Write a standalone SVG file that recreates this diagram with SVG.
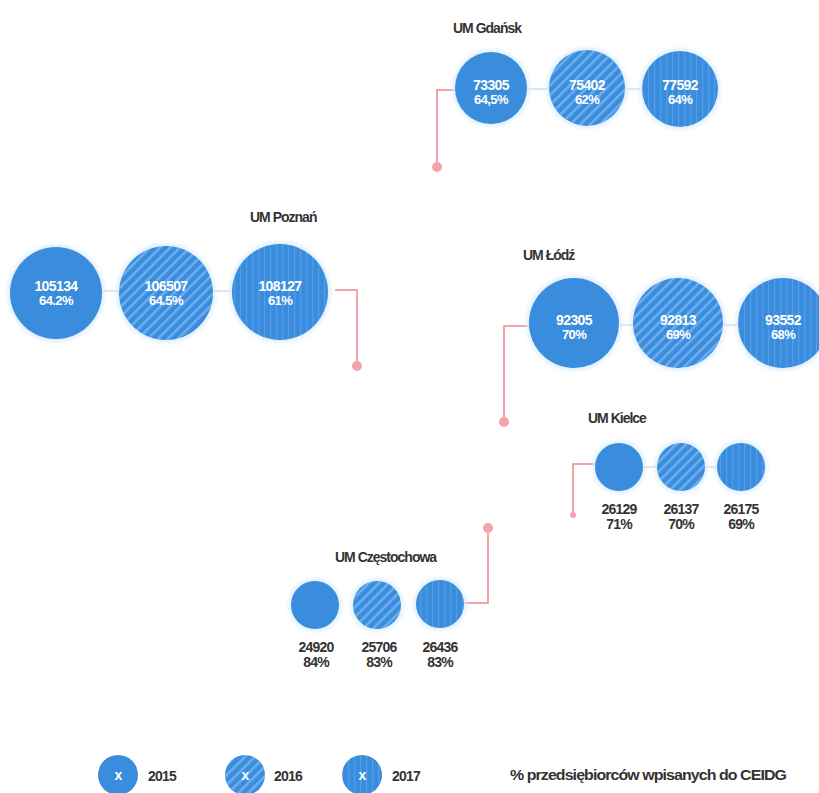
<svg xmlns="http://www.w3.org/2000/svg" width="819" height="793" viewBox="0 0 819 793">
<defs>
<pattern id="diag" patternUnits="userSpaceOnUse" width="7" height="7" patternTransform="rotate(45)">
<rect width="7" height="7" fill="#3a8ddc"/>
<rect width="2.5" height="7" fill="#6eaeee"/>
</pattern>
<pattern id="vert" patternUnits="userSpaceOnUse" width="6" height="6">
<rect width="6" height="6" fill="#3a8ddc"/>
<rect width="1.2" height="6" fill="#549de6"/>
</pattern>
<filter id="glow" x="-30%" y="-30%" width="160%" height="160%">
<feGaussianBlur stdDeviation="2.5"/>
</filter>
</defs>
<style>
.c15{fill:#3a8ddc}
.c16{fill:url(#diag)}
.c17{fill:url(#vert)}
.halo{fill:#d8ebfb;filter:url(#glow)}
.title{font-family:"Liberation Sans",Arial,sans-serif;font-weight:bold;font-size:14px;fill:#333;letter-spacing:-1px}
.in{font-family:"Liberation Sans",Arial,sans-serif;font-weight:bold;fill:#fff;text-anchor:middle;letter-spacing:-0.6px}
.out{font-family:"Liberation Sans",Arial,sans-serif;font-weight:bold;font-size:14px;fill:#333;text-anchor:middle;letter-spacing:-0.8px}
.leg{font-family:"Liberation Sans",Arial,sans-serif;font-weight:bold;font-size:14px;fill:#333;letter-spacing:-0.8px}
.conn{fill:none;stroke:#f3a4ab;stroke-width:2}
.dot{fill:#f3a4ab}
.faint{stroke:#d6dce3;stroke-width:1.5}
</style>

<g id="connectors">
<path class="conn" d="M456,90 H437 V167"/>
<circle class="dot" cx="437" cy="167" r="5"/>
<path class="conn" d="M335,290 H357 V366"/>
<circle class="dot" cx="357" cy="366" r="5"/>
<path class="conn" d="M530,326 H504 V422"/>
<circle class="dot" cx="504" cy="422" r="5"/>
<path class="conn" d="M595,464 H573 V515"/>
<circle class="dot" cx="573" cy="515" r="3"/>
<path class="conn" d="M463,603 H488 V528"/>
<circle class="dot" cx="488" cy="528" r="5"/>
<line class="faint" x1="527" y1="89" x2="548" y2="89"/>
<line class="faint" x1="626" y1="89" x2="641" y2="89"/>
<line class="faint" x1="102" y1="291" x2="119" y2="291"/>
<line class="faint" x1="213" y1="291" x2="232" y2="291"/>
<line class="faint" x1="618" y1="325" x2="634" y2="325"/>
<line class="faint" x1="722" y1="325" x2="738" y2="325"/>
<line class="faint" x1="643" y1="467" x2="657" y2="467"/>
<line class="faint" x1="705" y1="467" x2="717" y2="467"/>
</g>

<g id="gdansk">
<text class="title" x="453" y="33">UM Gdańsk</text>
<circle class="halo" cx="491" cy="88" r="38"/>
<circle class="halo" cx="587" cy="88" r="40"/>
<circle class="halo" cx="680" cy="89" r="40"/>
<circle class="c15" cx="491" cy="88" r="36"/>
<circle class="c16" cx="587" cy="88" r="38"/>
<circle class="c17" cx="680" cy="89" r="38"/>
<text class="in" font-size="14" x="491" y="90">73305</text>
<text class="in" font-size="13" x="491" y="104">64,5%</text>
<text class="in" font-size="14" x="587" y="90">75402</text>
<text class="in" font-size="13" x="587" y="104">62%</text>
<text class="in" font-size="14" x="680" y="90">77592</text>
<text class="in" font-size="13" x="680" y="104">64%</text>
</g>

<g id="poznan">
<text class="title" x="250" y="222">UM Poznań</text>
<circle class="halo" cx="56" cy="293" r="48"/>
<circle class="halo" cx="166" cy="293" r="49"/>
<circle class="halo" cx="280" cy="292" r="50"/>
<circle class="c15" cx="56" cy="293" r="46"/>
<circle class="c16" cx="166" cy="293" r="47"/>
<circle class="c17" cx="280" cy="292" r="48"/>
<text class="in" font-size="14" x="56" y="291">105134</text>
<text class="in" font-size="13" x="56" y="305">64.2%</text>
<text class="in" font-size="14" x="166" y="291">106507</text>
<text class="in" font-size="13" x="166" y="305">64.5%</text>
<text class="in" font-size="14" x="280" y="291">108127</text>
<text class="in" font-size="13" x="280" y="305">61%</text>
</g>

<g id="lodz">
<text class="title" x="523" y="260">UM Łódź</text>
<circle class="halo" cx="574" cy="323" r="47"/>
<circle class="halo" cx="678" cy="323" r="47"/>
<circle class="halo" cx="783" cy="323" r="47"/>
<circle class="c15" cx="574" cy="323" r="45"/>
<circle class="c16" cx="678" cy="323" r="45"/>
<circle class="c17" cx="783" cy="323" r="45"/>
<text class="in" font-size="14" x="574" y="325">92305</text>
<text class="in" font-size="13" x="574" y="339">70%</text>
<text class="in" font-size="14" x="678" y="325">92813</text>
<text class="in" font-size="13" x="678" y="339">69%</text>
<text class="in" font-size="14" x="783" y="325">93552</text>
<text class="in" font-size="13" x="783" y="339">68%</text>
</g>

<g id="kielce">
<text class="title" x="588" y="423">UM Kielce</text>
<circle class="halo" cx="619" cy="467" r="26"/>
<circle class="halo" cx="681" cy="467" r="26"/>
<circle class="halo" cx="741" cy="467" r="26"/>
<circle class="c15" cx="619" cy="467" r="24"/>
<circle class="c16" cx="681" cy="467" r="24"/>
<circle class="c17" cx="741" cy="467" r="24"/>
<text class="out" x="619" y="514">26129</text>
<text class="out" x="619" y="529">71%</text>
<text class="out" x="681" y="514">26137</text>
<text class="out" x="681" y="529">70%</text>
<text class="out" x="741" y="514">26175</text>
<text class="out" x="741" y="529">69%</text>
</g>

<g id="czestochowa">
<text class="title" x="335" y="562">UM Częstochowa</text>
<circle class="halo" cx="315" cy="605" r="26"/>
<circle class="halo" cx="377" cy="605" r="26"/>
<circle class="halo" cx="440" cy="604" r="26"/>
<circle class="c15" cx="315" cy="605" r="24"/>
<circle class="c16" cx="377" cy="605" r="24"/>
<circle class="c17" cx="440" cy="604" r="24"/>
<text class="out" x="316" y="652">24920</text>
<text class="out" x="316" y="667">84%</text>
<text class="out" x="379" y="652">25706</text>
<text class="out" x="379" y="667">83%</text>
<text class="out" x="440" y="652">26436</text>
<text class="out" x="440" y="667">83%</text>
</g>

<g id="legend">
<circle class="c15" cx="118" cy="775" r="20"/>
<text class="in" font-size="14" x="118" y="780">x</text>
<text class="leg" x="148" y="781">2015</text>
<circle class="c16" cx="245" cy="775" r="20"/>
<text class="in" font-size="14" x="245" y="780">x</text>
<text class="leg" x="274" y="781">2016</text>
<circle class="c17" cx="362" cy="775" r="20"/>
<text class="in" font-size="14" x="362" y="780">x</text>
<text class="leg" x="392" y="781">2017</text>
<text class="leg" x="510" y="780" font-size="13" textLength="276" lengthAdjust="spacingAndGlyphs">% przedsiębiorców wpisanych do CEIDG</text>
</g>
</svg>
